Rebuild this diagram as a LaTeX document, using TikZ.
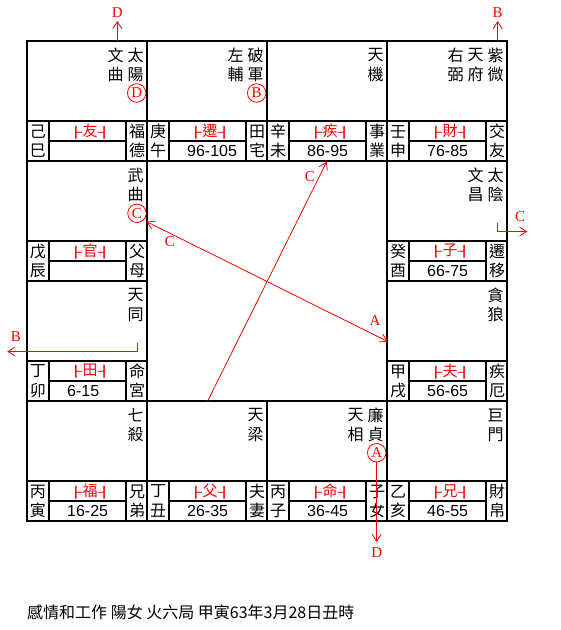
\documentclass[tikz,border=0pt]{standalone}
\usepackage{fontspec}
\setmainfont{Liberation Sans}
\newfontfamily\cjk{Noto Sans CJK TC}
\newfontfamily\lat{Liberation Serif}
\newfontfamily\dv{DejaVu Sans}
\usetikzlibrary{arrows.meta}
\newcommand\firstch[2]{#1}
\newcommand\secondch[2]{#2}
\newcommand\lbar{\scalebox{1.35}[0.72]{\dv ├}}
\newcommand\rbar{\scalebox{1.35}[0.72]{\dv ┤}}
\tikzset{
  frame/.style={line width=1.8pt},
  ch/.style={font=\cjk\fontsize{16}{16}\selectfont, inner sep=0pt},
  redlab/.style={font=\cjk\fontsize{15}{15}\selectfont, text=red, inner sep=0pt},
  num/.style={font=\fontsize{16}{16}\selectfont, inner sep=0pt, anchor=west},
  rline/.style={draw=red, line width=0.8pt},
  tipend/.style={-{Straight Barb[length=7pt,width=9pt]}},
  tipboth/.style={{Straight Barb[length=7pt,width=9pt]}-{Straight Barb[length=7pt,width=9pt]}},
  letter/.style={font=\lat\fontsize{15}{15}\selectfont, text=red, inner sep=0pt},
  circ/.style={circle, draw=red, minimum size=18.5pt, inner sep=0pt, line width=0.8pt, font=\lat\fontsize{15}{15}\selectfont, text=red},
  caption/.style={font=\cjk\fontsize{16}{16}\selectfont, inner sep=0pt, anchor=west},
}
% #1 x0, #2 y0, #3 name, #4 stars, #5 stem/branch, #6 (unused), #7 label, #8 range, #9 palace
\newcommand\palace[9]{%
  \draw[frame] (#1,#2) rectangle ({#1+120},{#2+120});
  \draw[frame] (#1,{#2+80}) -- ({#1+120},{#2+80});
  \draw[frame] ({#1+22},{#2+80}) -- ({#1+22},{#2+120});
  \draw[frame] ({#1+99},{#2+80}) -- ({#1+99},{#2+120});
  \draw[frame] ({#1+22},{#2+100}) -- ({#1+99},{#2+100});
  \foreach \s [count=\k] in {#4} {
    \node[ch] (#3-s\k-a) at ({#1+128.5-20*\k},{#2+14.5}) {\expandafter\firstch\s};
    \node[ch] (#3-s\k-b) at ({#1+128.5-20*\k},{#2+33.5}) {\expandafter\secondch\s};
  }
  \node[ch] (#3-g1) at ({#1+11},{#2+90.5}) {\firstch#5};
  \node[ch] (#3-g2) at ({#1+11},{#2+109.5}) {\secondch#5};
  \node[ch] (#3-p1) at ({#1+110},{#2+90.5}) {\firstch#9};
  \node[ch] (#3-p2) at ({#1+110},{#2+109.5}) {\secondch#9};
  \node[redlab] (#3-l) at ({#1+63},{#2+90.5}) {\lbar\kern0.5pt#7\kern0.5pt\rbar};
  \node[num] (#3-r) at ({#1+40},{#2+110}) {#8};
}
\begin{document}
\begin{tikzpicture}[x=1pt,y=-1pt]
\useasboundingbox (0,0) rectangle (561,630);
% top row
\palace{27}{41}{si}{太陽,文曲}{己巳}{}{友}{}{福德}
\palace{147}{41}{wu}{破軍,左輔}{庚午}{}{遷}{96-105}{田宅}
\palace{267}{41}{wei}{天機}{辛未}{}{疾}{86-95}{事業}
\palace{387}{41}{shen}{紫微,天府,右弼}{壬申}{}{財}{76-85}{交友}
% second row
\palace{27}{161}{chen}{武曲}{戊辰}{}{官}{}{父母}
\palace{387}{161}{you}{太陰,文昌}{癸酉}{}{子}{66-75}{遷移}
% third row
\palace{27}{281}{mao}{天同}{丁卯}{}{田}{6-15}{命宮}
\palace{387}{281}{xu}{貪狼}{甲戌}{}{夫}{56-65}{疾厄}
% bottom row
\palace{27}{401}{yin}{七殺}{丙寅}{}{福}{16-25}{兄弟}
\palace{147}{401}{chou}{天梁}{丁丑}{}{父}{26-35}{夫妻}
\palace{267}{401}{zi}{廉貞,天相}{丙子}{}{命}{36-45}{子女}
\palace{387}{401}{hai}{巨門}{乙亥}{}{兄}{46-55}{財帛}

% circled markers
\node[circ] (cD) at (136.7,93) {D};
\node[circ] (cB) at (256.7,93) {B};
\node[circ] (cC) at (137,213.3) {C};
\node[circ] (cA) at (376.7,452.7) {A};

% outward arrows
\coordinate (dS) at (117.3,41);
\coordinate (dT) at (117.3,21);
\draw[rline,tipend] (dS) -- (dT);
\node[letter] (dL) at (117.3,12.5) {D};

\coordinate (bS) at (497.7,41);
\coordinate (bT) at (497.7,21);
\draw[rline,tipend] (bS) -- (bT);
\node[letter] (bL) at (497.7,12.5) {B};

\coordinate (aT) at (376.7,542);
\draw[rline,tipend] (cA.south) -- (aT);
\node[letter] (aL) at (376.7,552.5) {D};

\coordinate (rS) at (497.3,222.7);
\coordinate (rM) at (497.3,231.5);
\coordinate (rT) at (527.3,231.5);
\draw[rline,tipend] (rS) -- (rM) -- (rT);
\node[letter] (rL) at (520,217) {C};

\coordinate (lS) at (137.3,342.7);
\coordinate (lM) at (137.3,351.5);
\coordinate (lT) at (7.3,351.5);
\draw[rline,tipend] (lS) -- (lM) -- (lT);
\node[letter] (lL) at (16,337) {B};

% center arrows
\coordinate (u1) at (207.7,401);
\coordinate (u2) at (326.7,161.7);
\draw[rline,tipend] (u1) -- (u2);
\node[letter] (uL) at (310,176.7) {C};

\coordinate (x1) at (146.7,221.7);
\coordinate (x2) at (387.7,341.5);
\draw[rline,tipboth] (x1) -- (x2);
\node[letter] (xL1) at (170,241.7) {C};
\node[letter] (xL2) at (375,321) {A};

% caption
\node[caption] (cap) at (27,612) {感情和工作 陽女 火六局 甲寅63年3月28日丑時};
\end{tikzpicture}
\end{document}
